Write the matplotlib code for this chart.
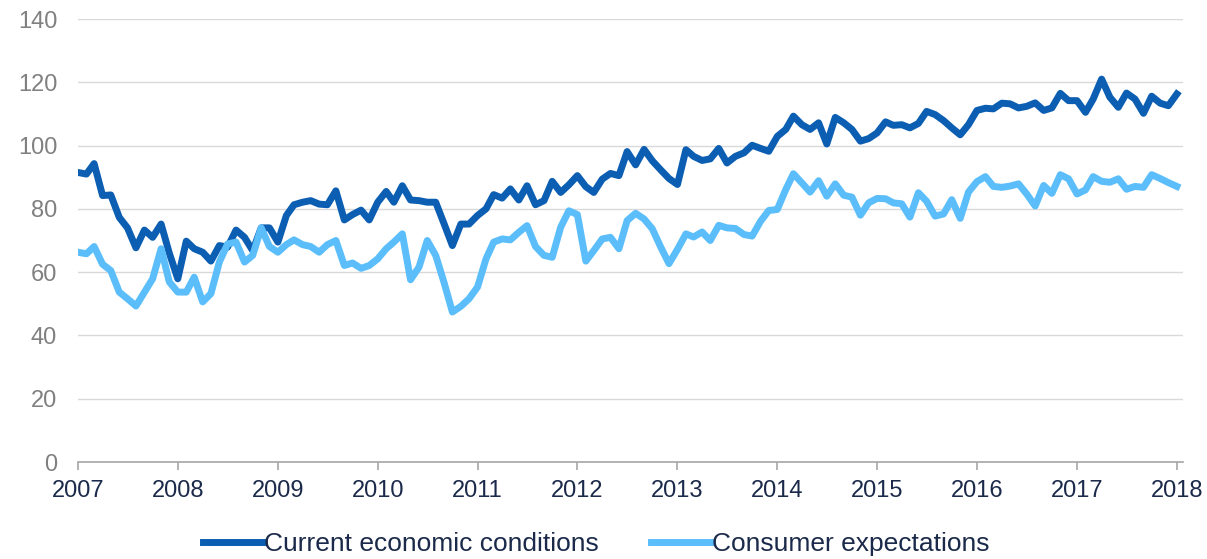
import matplotlib
matplotlib.use("Agg")
import matplotlib.dates as mdates
import matplotlib.pyplot as plt
import pandas as pd

# monthly index values, Jan 2007 - Jan 2018
current_conditions = [
    91.5, 91.0, 94.3, 84.2, 84.4, 77.3, 74.0, 67.7, 73.3, 71.0, 75.2, 66.0,
    57.9, 69.8, 67.4, 66.3, 63.5, 68.4, 67.9, 73.3, 71.0, 66.8, 74.0, 74.0,
    69.5, 77.9, 81.3, 82.1, 82.6, 81.5, 81.3, 85.7, 76.5, 78.2, 79.6, 76.5,
    82.1, 85.5, 82.1, 87.3, 82.8, 82.6, 82.1, 82.1, 75.2, 68.4, 75.2, 75.2,
    77.9, 80.0, 84.5, 83.4, 86.3, 82.8, 87.3, 81.3, 82.6, 88.7, 85.2, 87.6,
    90.5, 87.0, 85.2, 89.4, 91.2, 90.5, 98.1, 93.9, 98.8, 95.2, 92.3, 89.6,
    87.7, 98.7, 96.6, 95.3, 95.8, 99.1, 94.5, 96.6, 97.7, 100.1, 99.1, 98.2,
    102.9, 105.1, 109.3, 106.6, 105.1, 107.2, 100.5, 108.9, 107.2, 105.1, 101.4, 102.2,
    104.0, 107.5, 106.4, 106.6, 105.6, 107.0, 110.8, 109.8, 107.9, 105.6, 103.4, 106.6,
    111.1, 111.8, 111.6, 113.4, 113.2, 111.9, 112.4, 113.5, 111.1, 111.9, 116.5, 114.2,
    114.2, 110.5, 114.7, 121.0, 115.3, 112.1, 116.6, 114.7, 110.2, 115.6, 113.4, 112.6,
    116.3,
]
consumer_expectations = [
    66.3, 65.8, 68.1, 62.5, 60.5, 53.7, 51.6, 49.3, 53.7, 57.9, 67.4, 56.9,
    53.7, 53.7, 58.4, 50.6, 53.2, 63.2, 68.9, 69.5, 63.2, 65.3, 74.0, 68.1,
    66.3, 68.7, 70.2, 68.7, 68.1, 66.3, 68.7, 70.0, 62.1, 62.9, 61.2, 62.1,
    64.2, 67.4, 69.5, 72.1, 57.6, 61.6, 70.0, 65.3, 56.6, 47.4, 49.2, 51.6,
    55.3, 64.2, 69.5, 70.5, 70.2, 72.6, 74.7, 68.1, 65.3, 64.7, 74.2, 79.4,
    78.2, 63.5, 66.8, 70.5, 71.0, 67.4, 76.3, 78.6, 76.8, 73.7, 67.9, 62.7,
    67.2, 72.1, 71.1, 72.7, 70.0, 74.8, 74.0, 73.8, 71.9, 71.4, 76.1, 79.5,
    79.8, 86.1, 91.1, 88.2, 85.3, 88.9, 84.0, 87.9, 84.3, 83.7, 78.0, 81.9,
    83.3, 83.2, 81.9, 81.6, 77.4, 85.1, 82.4, 77.7, 78.4, 82.9, 77.0, 85.3,
    88.6, 90.2, 87.1, 86.8, 87.2, 87.9, 84.7, 80.9, 87.4, 84.9, 90.8, 89.5,
    84.7, 86.0, 90.2, 88.7, 88.4, 89.5, 86.2, 87.1, 86.8, 90.8, 89.6, 88.3,
    87.1,
]
dates = pd.date_range("2007-01-01", periods=len(current_conditions), freq="MS")
series_labels = ["Current economic conditions", "Consumer expectations"]
y_ticks = [0, 20, 40, 60, 80, 100, 120, 140]

plt.rcParams["font.family"] = ["Liberation Sans", "DejaVu Sans"]

fig = plt.figure(figsize=(12.07, 5.59), dpi=100)
ax = fig.add_axes([0.0646, 0.1735, 0.9154, 0.7925])

ax.plot(dates, current_conditions, color="#0B5EB2", linewidth=5.0,
        solid_joinstyle="round", label=series_labels[0])
ax.plot(dates, consumer_expectations, color="#5BBEFB", linewidth=5.0,
        solid_joinstyle="round", label=series_labels[1])

ax.set_ylim(0, 140)
ax.set_yticks(y_ticks)
ax.set_xlim(pd.Timestamp("2007-01-01"), pd.Timestamp("2018-01-23"))
ax.xaxis.set_major_locator(mdates.YearLocator())
ax.xaxis.set_major_formatter(mdates.DateFormatter("%Y"))

ax.grid(axis="y", color="#D9D9D9", linewidth=1.0)
ax.set_axisbelow(True)
for side in ["top", "right", "left"]:
    ax.spines[side].set_visible(False)
ax.spines["bottom"].set_color("#A6A6A6")
ax.spines["bottom"].set_linewidth(1.2)

ax.tick_params(axis="y", length=0, pad=15, labelsize=17, labelcolor="#808080")
ax.tick_params(axis="x", length=6, width=1.2, color="#A6A6A6", pad=7,
               labelsize=17, labelcolor="#1B2A4A")

ax.legend(loc="center", bbox_to_anchor=(0.469, -0.185), ncol=2, frameon=False,
          fontsize=19, labelcolor="#1B2A4A", handlelength=2.3, handletextpad=0.0,
          columnspacing=2.0)

fig.savefig("out.png", dpi=100)
